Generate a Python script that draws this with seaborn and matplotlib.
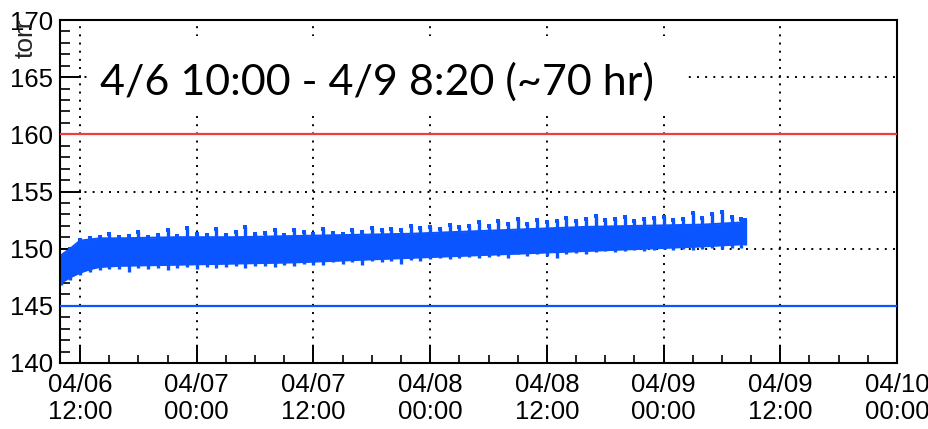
import numpy as np
import pandas as pd
import matplotlib
matplotlib.use("Agg")
import matplotlib.pyplot as plt
import matplotlib.dates as mdates
from matplotlib.ticker import MultipleLocator
from matplotlib.patches import Rectangle
import seaborn as sns

# ---------------- data ----------------
start_time = "2020-04-06 10:00"
end_time = "2020-04-09 08:20"
# hourly extremes (spike tips) of the noisy pressure readings (torr), + final point
upper = [149.4, 150.0, 150.8, 150.9, 151.0, 151.3, 151.0, 151.1, 151.5, 151.0,
         151.2, 151.6, 151.1, 151.8, 151.3, 151.2, 151.7, 151.2, 151.5, 151.9,
         151.3, 151.4, 151.6, 151.2, 151.6, 151.5, 151.3, 151.7, 151.4, 151.3,
         151.6, 151.5, 151.8, 151.6, 151.7, 151.6, 152.0, 151.8, 151.9, 151.7,
         152.1, 151.9, 152.0, 152.3, 152.0, 152.4, 152.2, 152.6, 152.2, 152.5,
         152.3, 152.4, 152.7, 152.4, 152.6, 152.9, 152.5, 152.6, 152.8, 152.4,
         152.6, 152.7, 152.8, 152.5, 152.6, 153.1, 152.7, 153.0, 153.2, 152.8,
         152.6, 152.5]
lower = [146.8, 147.3, 147.7, 148.0, 148.1, 148.2, 148.2, 148.0, 148.3, 148.2,
         148.3, 148.1, 148.3, 148.4, 148.2, 148.4, 148.3, 148.4, 148.5, 148.3,
         148.5, 148.5, 148.4, 148.6, 148.5, 148.7, 148.6, 148.6, 148.8, 148.7,
         148.8, 148.6, 148.9, 148.8, 148.9, 148.7, 149.0, 148.9, 149.1, 149.2,
         149.1, 149.2, 149.3, 149.2, 149.3, 149.4, 149.2, 149.5, 149.4, 149.5,
         149.4, 149.2, 149.5, 149.6, 149.5, 149.7, 149.8, 149.7, 149.8, 149.9,
         149.8, 149.9, 150.0, 149.9, 150.0, 149.9, 150.0, 150.1, 150.0, 150.1,
         150.1, 150.3]
# solid core of the band (torr) at a few time offsets (hours after start)
core_hours = [0, 1, 2, 3, 4, 6, 12, 18, 24, 30, 36, 42, 48, 54, 60, 66, 70.33]
core_top = [149.4, 150.0, 150.7, 150.8, 150.9, 150.9, 151.0, 151.0, 151.1, 151.2,
            151.3, 151.5, 151.7, 151.9, 152.0, 152.1, 152.3]
core_bottom = [147.0, 147.5, 147.9, 148.2, 148.4, 148.5, 148.6, 148.7, 148.8, 149.0,
               149.2, 149.4, 149.6, 149.8, 150.0, 150.2, 150.4]
upper_limit = 160
lower_limit = 145
y_range = (140, 170)
x_range = ("2020-04-06 09:56", "2020-04-10 00:00")
y_label = "torr"
annotation = "4/6 10:00 - 4/9 8:20 (~70 hr)"

# ---------------- style ----------------
sns.set_style("white")
plt.rcParams["font.family"] = ["Liberation Sans", "DejaVu Sans"]

BLUE = "#0a55ff"
RED = "#f03c3c"

t0 = pd.Timestamp(start_time)
times = list(pd.date_range(start_time, periods=len(upper) - 1, freq="h")) + [pd.Timestamp(end_time)]
df = pd.DataFrame({"time": times, "upper": upper, "lower": lower})
core = pd.DataFrame({"time": [t0 + pd.Timedelta(hours=h) for h in core_hours],
                     "top": core_top, "bottom": core_bottom})

fig = plt.figure(figsize=(9.29, 4.29), dpi=100)
ax = fig.add_axes([60 / 929, 1 - 363 / 429, 837 / 929, 343 / 429])

# solid core of the band
ax.fill_between(core["time"], core["bottom"], core["top"], color=BLUE, lw=0, zorder=2)
sns.lineplot(data=core, x="time", y="top", ax=ax, color=BLUE, lw=1.5, estimator=None, zorder=2)
sns.lineplot(data=core, x="time", y="bottom", ax=ax, color=BLUE, lw=1.5, estimator=None, zorder=2)
# spikes of the noisy readings
ax.vlines(df["time"], df["lower"], df["upper"], color=BLUE, lw=2.4, zorder=2)
sns.lineplot(data=df, x="time", y="upper", ax=ax, color=BLUE, lw=0, marker="s",
             markersize=2.2, markeredgewidth=0, estimator=None, zorder=2)

ax.axhline(upper_limit, color=RED, lw=1.6, zorder=3)
ax.axhline(lower_limit, color=BLUE, lw=1.6, zorder=3)

ax.set_xlim(pd.Timestamp(x_range[0]), pd.Timestamp(x_range[1]))
ax.set_ylim(*y_range)

ax.xaxis.set_major_locator(mdates.HourLocator(byhour=[0, 12]))
ax.xaxis.set_minor_locator(mdates.HourLocator(byhour=range(0, 24, 3)))
ax.xaxis.set_major_formatter(mdates.DateFormatter("%m/%d\n%H:%M"))
ax.yaxis.set_major_locator(MultipleLocator(5))
ax.yaxis.set_minor_locator(MultipleLocator(1))

ax.set_axisbelow(True)
ax.grid(True, which="major", color="black", linestyle=(0, (1, 3.2)), linewidth=1.4)

ax.tick_params(axis="x", which="major", direction="in", length=13, width=1.4,
               labelsize=18.5, pad=7, top=False, bottom=True, colors="black")
ax.tick_params(axis="x", which="minor", direction="in", length=6, width=1.4,
               top=False, bottom=True)
ax.tick_params(axis="y", which="major", direction="in", length=15, width=1.4,
               labelsize=18.5, pad=5, right=False, left=True, colors="black")
ax.tick_params(axis="y", which="minor", direction="in", length=7, width=1.4,
               right=False, left=True)
for lab in ax.get_xticklabels():
    lab.set_linespacing(1.15)

for sp in ax.spines.values():
    sp.set_visible(True)
    sp.set_color("black")
    sp.set_linewidth(1.5)

ax.set_xlabel("")
ax.set_ylabel("")
fig.text(26 / 929, 1 - 19 / 429, y_label, rotation=90, ha="center", va="top", fontsize=19)

# annotation with white background
ax.add_patch(Rectangle((90 / 929, 1 - 116 / 429), 595 / 929, 80 / 429,
                       transform=fig.transFigure, facecolor="white", edgecolor="none", zorder=1))
ax.text(100 / 929, 1 - 82 / 429, annotation, transform=fig.transFigure, ha="left", va="center",
        fontsize=31, family=["Lato", "DejaVu Sans"], color="black", zorder=4)

fig.savefig("out.png", dpi=100)
